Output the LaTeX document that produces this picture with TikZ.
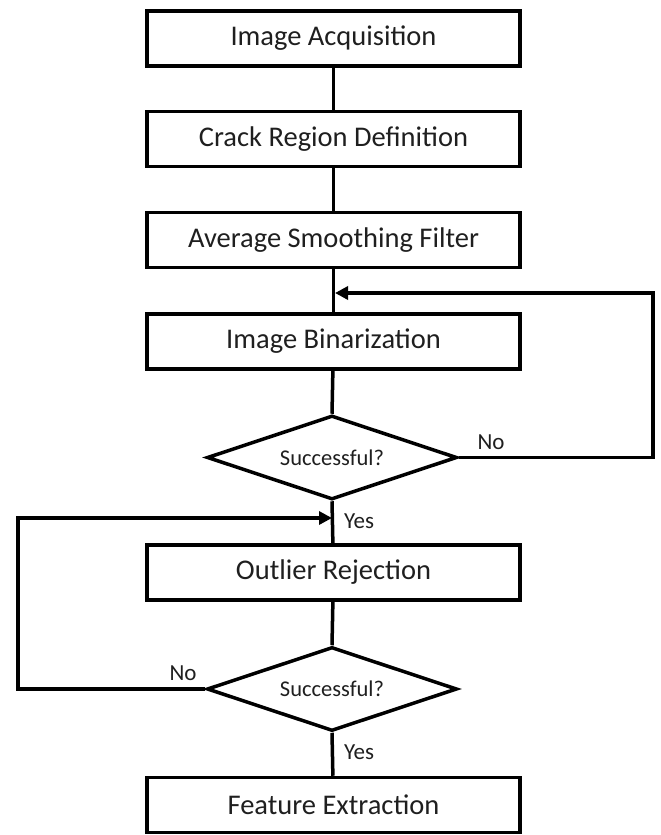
\documentclass[tikz,border=0pt]{standalone}
\usepackage{fontspec}
\setmainfont{Carlito}
\usetikzlibrary{shapes.geometric,arrows.meta}
\begin{document}
\begin{tikzpicture}[x=1pt,y=-1pt,
  stepbox/.style={draw=black, line width=3.5pt, minimum width=373pt, minimum height=55pt, inner sep=0pt, font=\fontsize{28.5}{32}\selectfont, text=black!88},
  decision/.style={draw=black, line width=3.5pt, shape=diamond, aspect=2.9, minimum width=250pt, minimum height=84pt, inner sep=0pt, font=\fontsize{22.5}{26}\selectfont, text=black!88},
  conn/.style={line width=3.5pt, draw=black},
  arr/.style={conn, -{Triangle[length=13pt,width=13pt]}},
  lbl/.style={font=\fontsize{23}{26}\selectfont, text=black!88, inner sep=0pt}]
\useasboundingbox (0,0) rectangle (661,835);
\node[stepbox] (b1) at (333.5,38.5) {Image Acquisition};
\node[stepbox] (b2) at (333.5,139) {Crack Region Definition};
\node[stepbox] (b3) at (333.5,240) {Average Smoothing Filter};
\node[stepbox] (b4) at (333.5,341.5) {Image Binarization};
\node[decision] (d1) at (332,457.5) {\raisebox{-3pt}{Successful?}};
\node[stepbox] (b5) at (333.5,572.5) {Outlier Rejection};
\node[decision] (d2) at (332,689) {\raisebox{-3pt}{Successful?}};
\node[stepbox] (b6) at (333.5,805) {Feature Extraction};
\coordinate (r1) at (653,293);
\coordinate (m1) at (333.5,293);
\coordinate (l2) at (18,518);
\coordinate (m2) at (333.5,518);
\draw[conn] (b1) -- (b2);
\draw[conn] (b2) -- (b3);
\draw[conn] (b3) -- (b4);
\draw[conn] (b4) -- (d1.north);
\draw[conn] (d1.south) -- (b5);
\draw[conn] (b5) -- (d2.north);
\draw[conn] (d2.south) -- (b6);
\draw[arr, line join=miter] (d1.east) -| (r1) -- ([xshift=1.5pt]m1);
\draw[arr, line join=miter] (d2.west) -| (l2) -- ([xshift=-1.5pt]m2);
\node[lbl] (no1) at (491,442) {No};
\node[lbl] (no2) at (183,673) {No};
\node[lbl] (yes1) at (359,521) {Yes};
\node[lbl] (yes2) at (359,752) {Yes};
\end{tikzpicture}
\end{document}
